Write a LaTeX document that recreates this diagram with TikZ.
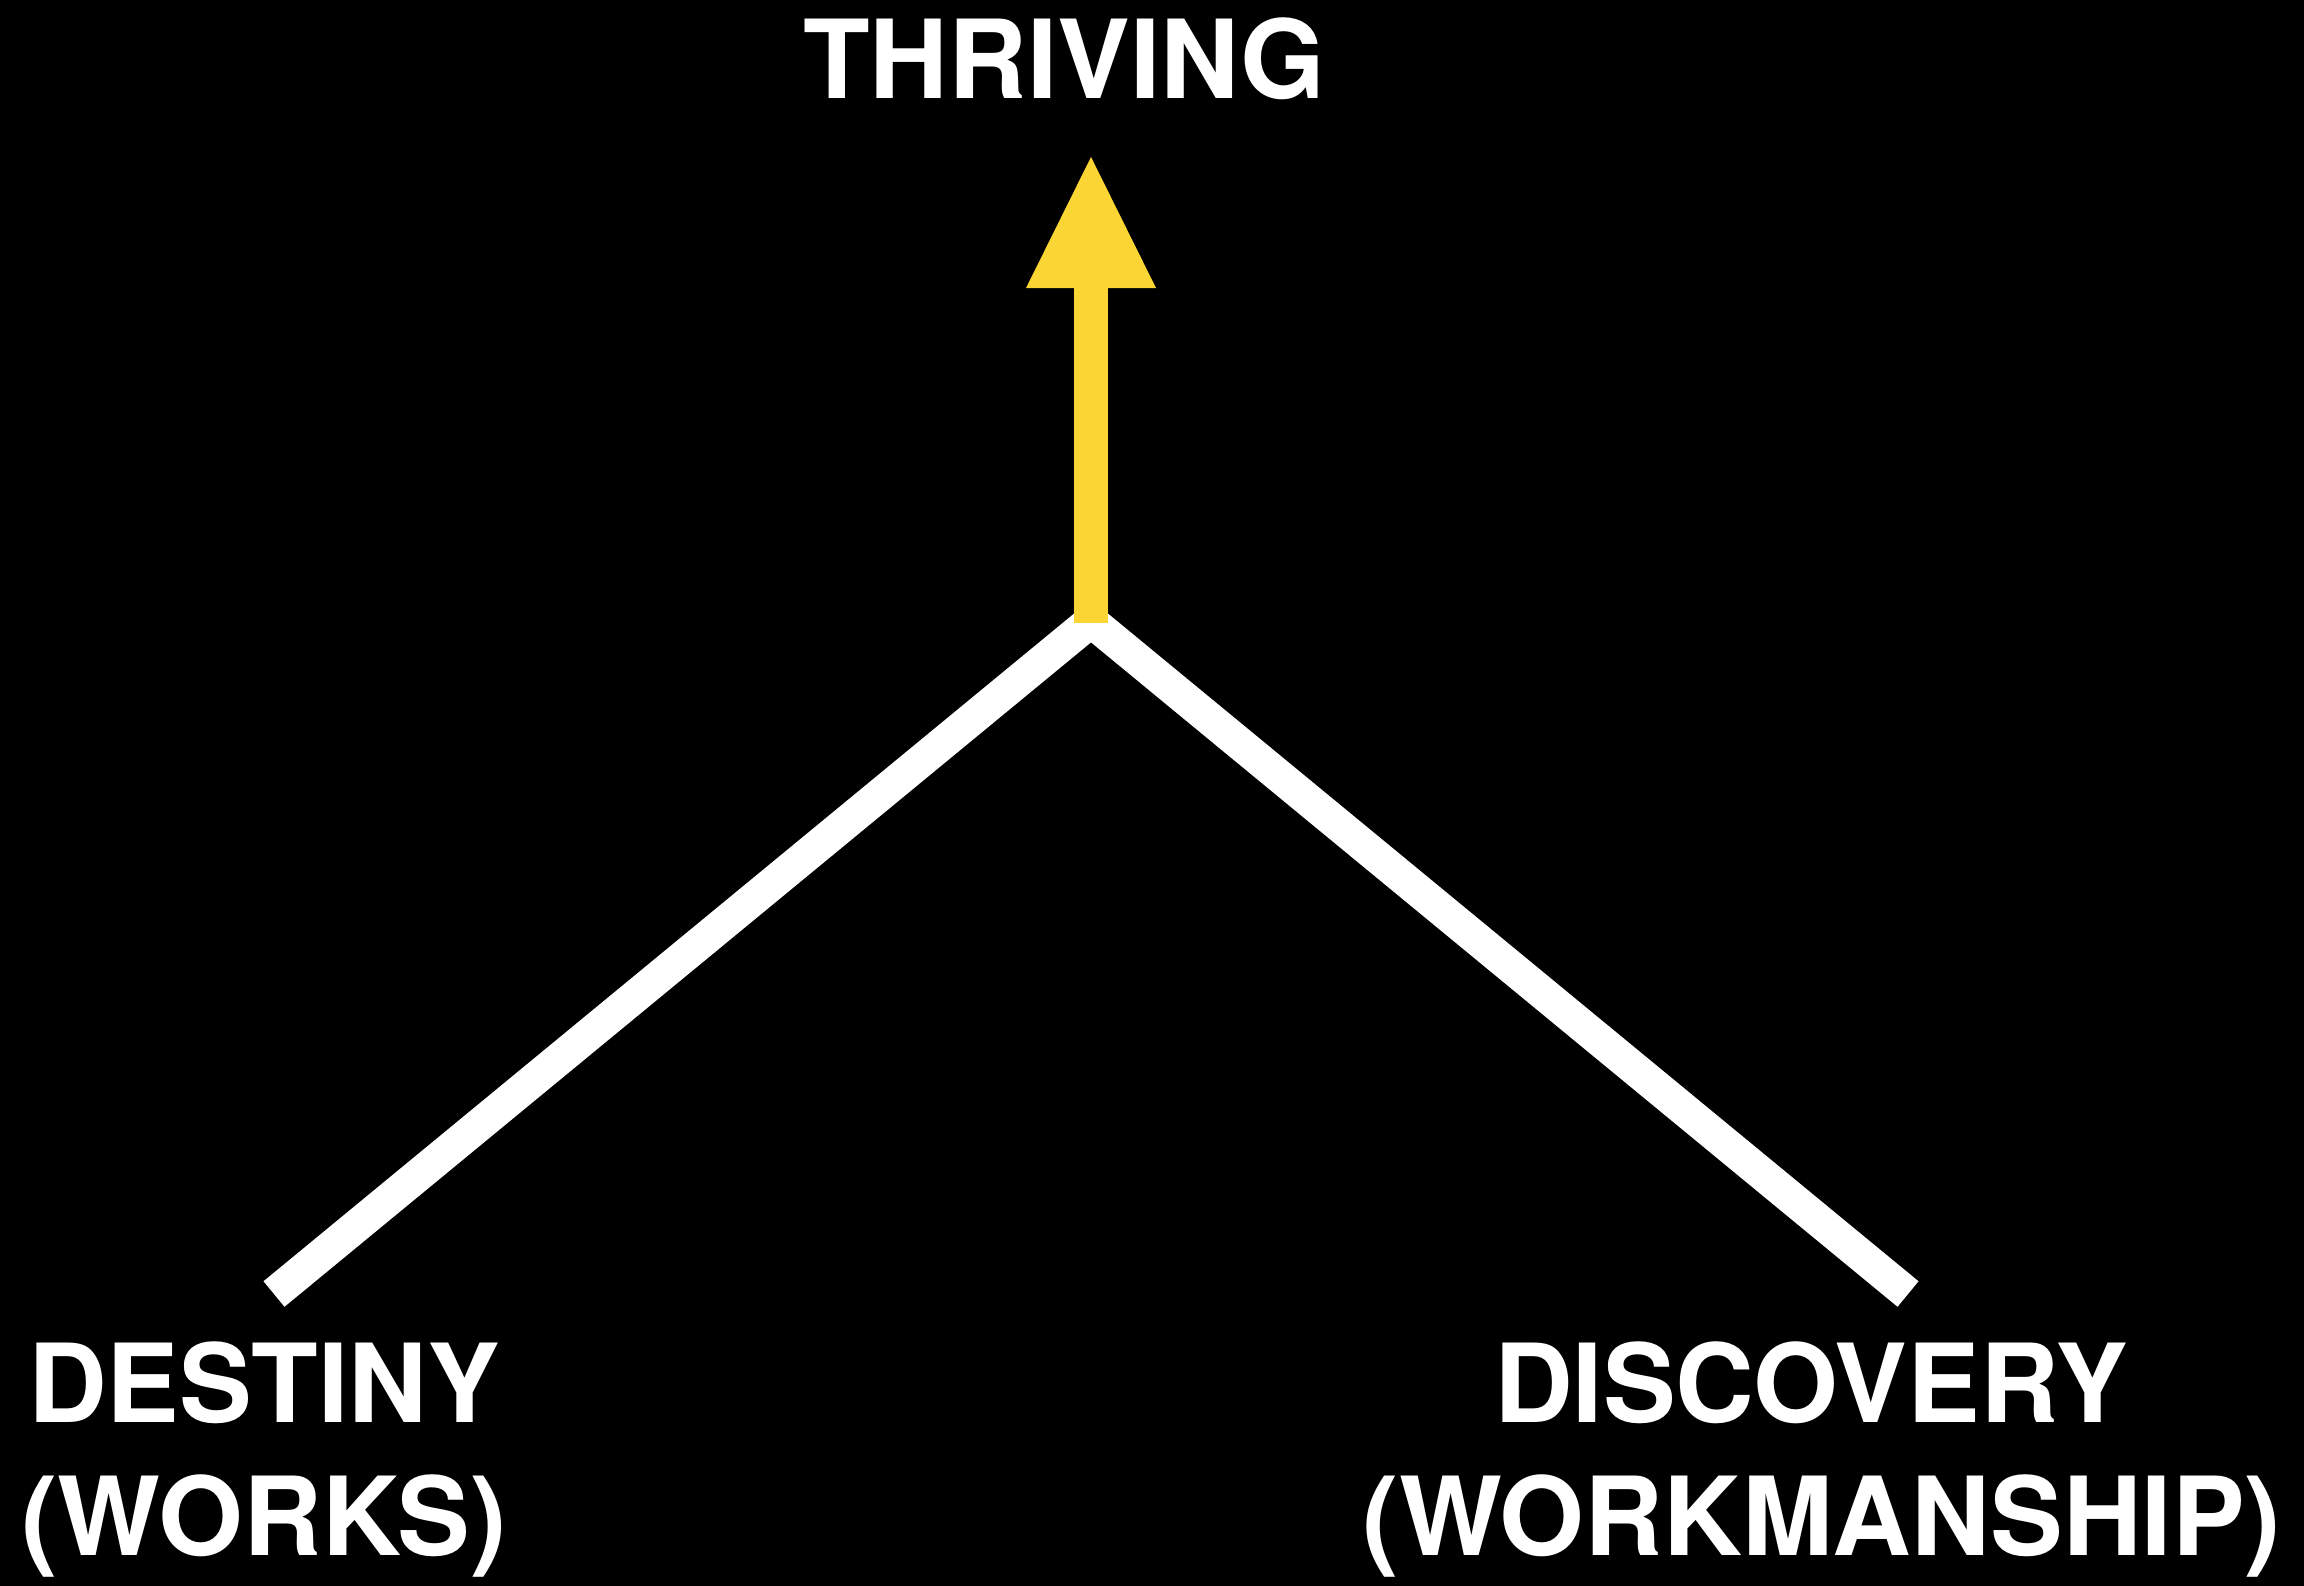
\documentclass[tikz,border=0pt]{standalone}
\usepackage{fontspec}
\setmainfont{TeX Gyre Heros}
\usetikzlibrary{arrows.meta}
\definecolor{arrowyellow}{RGB}{251,213,51}
\tikzset{
  lbl/.style={text=white, font=\bfseries\fontsize{31}{37.8}\selectfont, inner sep=0pt, align=center},
  vline/.style={draw=white, line width=0.33cm, line join=miter, line cap=butt},
  uparrow/.style={draw=arrowyellow, line width=0.34cm, line cap=butt,
    -{Triangle[width=1.30cm, length=1.31cm, line width=0pt, fill=arrowyellow]}}
}
\begin{document}
\begin{tikzpicture}[x=0.01cm, y=-0.01cm]
  \fill[black] (0,0) rectangle (2304,1586);
  \useasboundingbox (0,0) rectangle (2304,1586);
  % labels
  \node[lbl, anchor=base] (thriving) at (1064,99) {THRIVING};
  \node[lbl, anchor=base] (destiny) at (264,1555) {DESTINY\\(WORKS)};
  \node[lbl, anchor=base] (discovery) at (1822,1555) {DISCOVERY\hspace*{0.22cm}\\(WORKMANSHIP)};
  % geometry
  \coordinate (apex) at (1091,621);
  \coordinate (endl) at (274,1294);
  \coordinate (endr) at (1908,1294);
  \coordinate (shaftbase) at (1091,623);
  \coordinate (tip) at (1091,157);
  \draw[vline] (endl) -- (apex) -- (endr);
  \draw[uparrow] (shaftbase) -- (tip);
\end{tikzpicture}
\end{document}
